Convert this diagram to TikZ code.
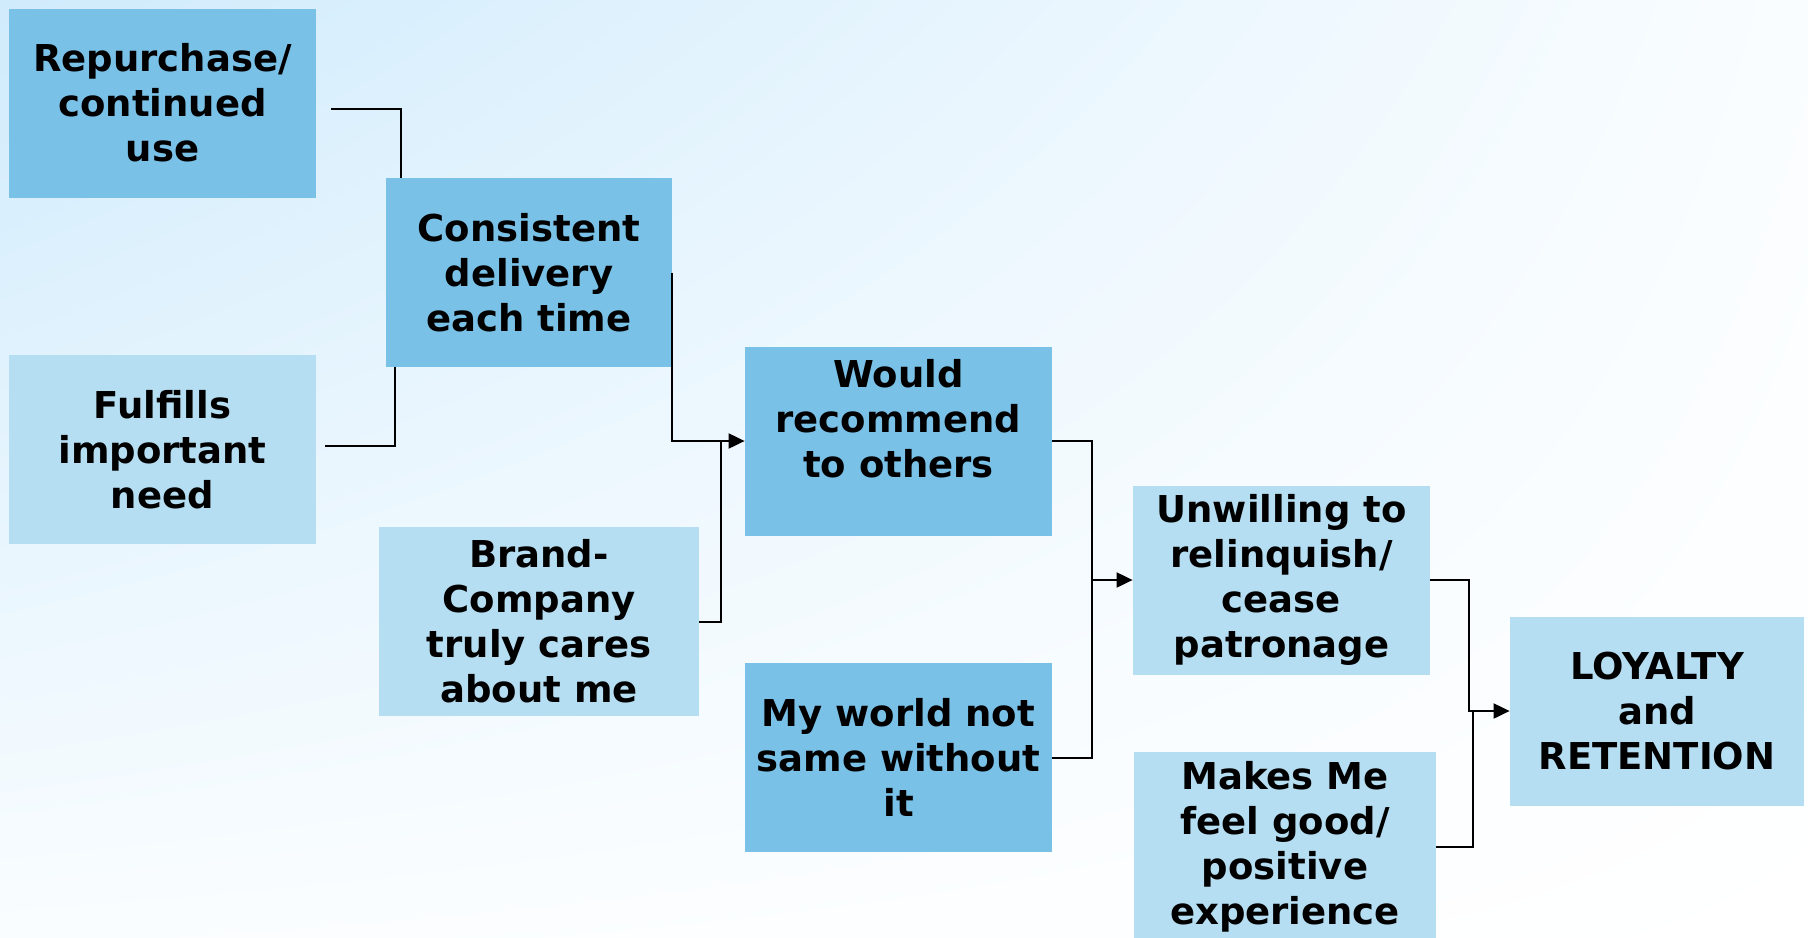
\documentclass[tikz,border=0pt]{standalone}
\usepackage{fontspec}
\setmainfont{DejaVu Sans}
\usetikzlibrary{arrows.meta,positioning,shadings}
\definecolor{boxdark}{RGB}{122,193,232}
\definecolor{boxlight}{RGB}{182,222,242}
\definecolor{bgblue}{RGB}{208,235,252}
\definecolor{bgpale}{RGB}{250,253,255}

\begin{document}
\begin{tikzpicture}[
  x=0.5pt, y=-0.5pt,
  font=\bfseries\fontsize{18.5}{22.5}\selectfont,
  box/.style={align=center, inner sep=0pt, minimum height=94.5pt},
  dark/.style={box, fill=boxdark},
  light/.style={box, fill=boxlight},
  line/.style={line width=1pt},
  arr/.style={line, -{Triangle[length=8pt,width=7.5pt]}}
]
\clip (0,0) rectangle (1808,937);
\shade[upper left=bgblue, upper right=bgpale, lower left=bgpale, lower right=white] (0,0) rectangle (1808,937);
\node[dark, minimum width=153.5pt] (rep) at (162.5,103) {Repurchase/\\continued\\use};
\node[light, minimum width=153.5pt, below=78.5pt of rep] (ful) {Fulfills\\important\\need};
\node[dark, minimum width=143pt] (cons) at (529,272.5) {Consistent\\delivery\\each time};
\node[light, minimum width=160pt] (brand) at (539,621.5) {Brand-\\Company\\truly cares\\about me};
\node[dark, minimum width=153.5pt] (would) at (898.5,441) {Would\\recommend\\to others\\\mbox{}};
\node[dark, minimum width=153.5pt, below=63.5pt of would] (world) {My world not\\same without\\it};
\node[light, minimum width=148.5pt] (unw) at (1281.5,580) {Unwilling to\\relinquish/\\cease\\patronage};
\node[light, minimum width=151pt, below=38.5pt of unw, xshift=1.75pt] (makes) {Makes Me\\feel good/\\positive\\experience};
\node[light, minimum width=147pt] (loy) at (1657,711) {LOYALTY\\and\\RETENTION};
\coordinate (j1) at ([xshift=-20.5pt]unw.west);
\coordinate (j2) at ([xshift=-20.5pt]loy.west);
\draw[line] ([xshift=7.5pt,yshift=-3pt]rep.east) -| ([xshift=7.5pt]cons.north west);
\draw[line] ([xshift=4.5pt,yshift=1.75pt]ful.east) -| ([xshift=4.5pt]cons.south west);
\draw[arr] (cons.east) |- (would.west);
\draw[line] (brand.east) -| ([xshift=-12pt]would.west);
\draw[arr] (would.east) -| (j1) -- (unw.west);
\draw[line] (world.east) -| (j1);
\draw[arr] (unw.east) -| (j2) -- (loy.west);
\draw[line] (makes.east) -| ([xshift=2pt]j2);
\end{tikzpicture}
\end{document}
